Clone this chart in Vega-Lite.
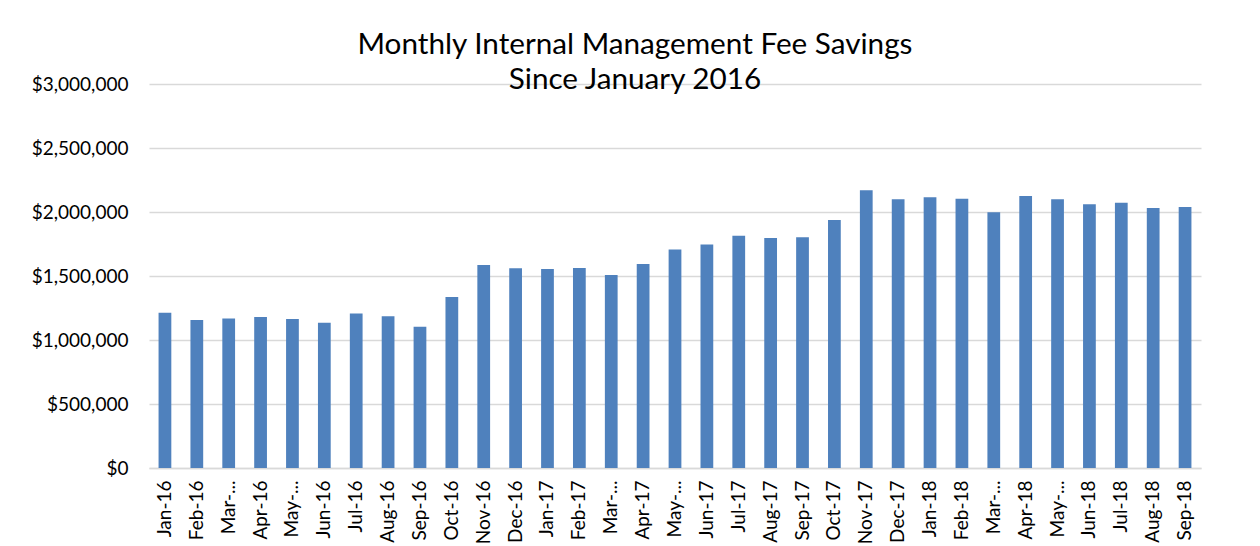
{
  "$schema": "https://vega.github.io/schema/vega-lite/v6.json",
  "width": 1052,
  "height": 384,
  "autosize": {"type": "none"},
  "padding": {"left": 149, "top": 84, "right": 59, "bottom": 78},
  "background": "white",
  "title": {
    "text": ["Monthly Internal Management Fee Savings", "Since January 2016"],
    "anchor": "middle",
    "frame": "group",
    "dx": -40,
    "dy": 44,
    "offset": 0,
    "baseline": "alphabetic",
    "lineHeight": 35,
    "font": "Lato",
    "fontSize": 29.7,
    "fontWeight": "normal",
    "color": "#000000"
  },
  "data": {
    "values": [
      {"month": "Jan-16", "savings": 1213000},
      {"month": "Feb-16", "savings": 1156000},
      {"month": "Mar-16", "savings": 1167000},
      {"month": "Apr-16", "savings": 1180000},
      {"month": "May-16", "savings": 1164000},
      {"month": "Jun-16", "savings": 1135000},
      {"month": "Jul-16", "savings": 1208000},
      {"month": "Aug-16", "savings": 1185000},
      {"month": "Sep-16", "savings": 1104000},
      {"month": "Oct-16", "savings": 1336000},
      {"month": "Nov-16", "savings": 1586000},
      {"month": "Dec-16", "savings": 1560000},
      {"month": "Jan-17", "savings": 1555000},
      {"month": "Feb-17", "savings": 1562000},
      {"month": "Mar-17", "savings": 1508000},
      {"month": "Apr-17", "savings": 1594000},
      {"month": "May-17", "savings": 1708000},
      {"month": "Jun-17", "savings": 1747000},
      {"month": "Jul-17", "savings": 1815000},
      {"month": "Aug-17", "savings": 1797000},
      {"month": "Sep-17", "savings": 1802000},
      {"month": "Oct-17", "savings": 1938000},
      {"month": "Nov-17", "savings": 2169000},
      {"month": "Dec-17", "savings": 2099000},
      {"month": "Jan-18", "savings": 2115000},
      {"month": "Feb-18", "savings": 2104000},
      {"month": "Mar-18", "savings": 1998000},
      {"month": "Apr-18", "savings": 2125000},
      {"month": "May-18", "savings": 2099000},
      {"month": "Jun-18", "savings": 2060000},
      {"month": "Jul-18", "savings": 2073000},
      {"month": "Aug-18", "savings": 2031000},
      {"month": "Sep-18", "savings": 2039000}
    ]
  },
  "mark": {"type": "bar", "color": "#4f81bd"},
  "encoding": {
    "x": {
      "field": "month",
      "type": "nominal",
      "sort": null,
      "scale": {"paddingInner": 0.6, "paddingOuter": 0.3},
      "axis": {
        "title": null,
        "labelAngle": -90,
        "labelFont": "Lato",
        "labelFontSize": 19,
        "labelColor": "#000000",
        "labelPadding": 12,
        "ticks": false,
        "domainColor": "#d9d9d9",
        "domainWidth": 1.5,
        "labelExpr": "(slice(datum.label,0,3)=='Mar' || slice(datum.label,0,3)=='May') ? slice(datum.label,0,4) + '...' : datum.label"
      }
    },
    "y": {
      "field": "savings",
      "type": "quantitative",
      "scale": {"domain": [0, 3000000], "nice": false},
      "axis": {
        "title": null,
        "values": [0, 500000, 1000000, 1500000, 2000000, 2500000, 3000000],
        "format": "$,.0f",
        "labelFont": "Lato",
        "labelFontSize": 19,
        "labelColor": "#000000",
        "labelPadding": 21,
        "ticks": false,
        "domain": false,
        "gridColor": "#d9d9d9",
        "gridWidth": 1.5
      }
    }
  },
  "config": {
    "view": {"stroke": null}
  }
}
